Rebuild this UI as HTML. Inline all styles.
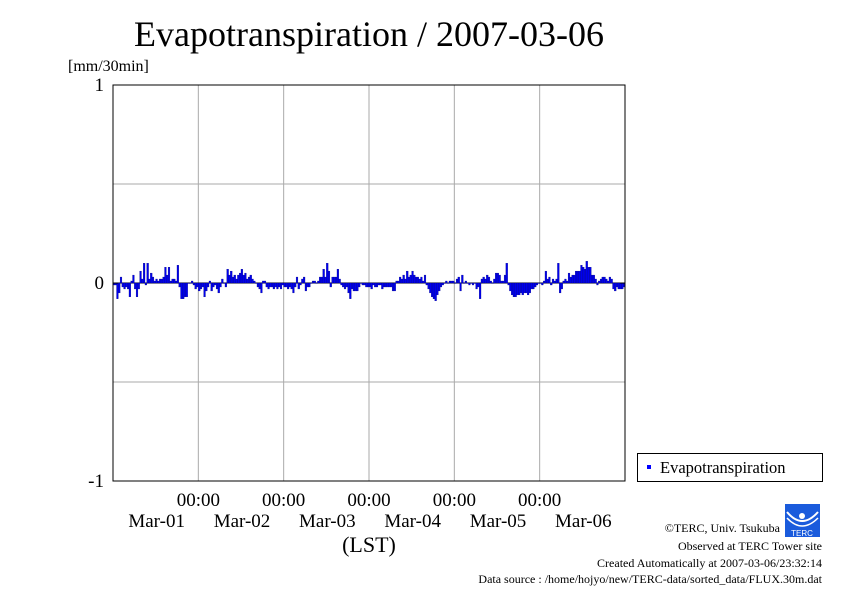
<!DOCTYPE html>
<html><head><meta charset="utf-8"><style>
body{margin:0;background:#fff;width:842px;height:595px;overflow:hidden}
svg{display:block;font-family:"Liberation Serif",serif}
</style></head><body>
<svg id="chart" width="842" height="595">
<text x="369" y="46" font-size="36" text-anchor="middle">Evapotranspiration / 2007-03-06</text>
<text x="68" y="71" font-size="16">[mm/30min]</text>
<g id="grid"></g>
<g id="bars"></g>
<rect x="113" y="85" width="512" height="396" fill="none" stroke="#000" stroke-width="1"/>
<g id="axes" font-size="19"></g>
<text x="369" y="552" font-size="22" text-anchor="middle">(LST)</text>
<g>
<rect x="637.5" y="453.5" width="185" height="28" fill="#fff" stroke="#000"/>
<rect x="647" y="465" width="4" height="4" fill="#0000ff"/>
<text x="660" y="473" font-size="16.5">Evapotranspiration</text>
</g>
<g>
<rect x="785" y="504" width="35" height="33" fill="#1a5bdc"/>
<path d="M787 512 Q802 530 818 512" stroke="#fff" stroke-width="2" fill="none"/>
<path d="M787 518 Q802 534 818 518" stroke="#fff" stroke-width="1.5" fill="none"/>
<circle cx="802" cy="516" r="3" fill="#fff"/>
<text x="802" y="536" font-size="8" fill="#fff" text-anchor="middle" font-family="Liberation Sans,sans-serif">TERC</text>
</g>
<g font-size="12" text-anchor="end">
<text x="780" y="532">©TERC, Univ. Tsukuba</text>
<text x="822" y="550">Observed at TERC Tower site</text>
<text x="822" y="567">Created Automatically at 2007-03-06/23:32:14</text>
<text x="822" y="583">Data source : /home/hojyo/new/TERC-data/sorted_data/FLUX.30m.dat</text>
</g>
</svg>
<script>
const yTicks=[1,0,-1];
const yTickLabels=["1","0","-1"];
const dayLabels=["Mar-01","Mar-02","Mar-03","Mar-04","Mar-05","Mar-06"];
const valuesDay1=[-0.01,-0.01,-0.08,-0.05,0.03,-0.02,-0.03,-0.02,-0.03,-0.07,0.01,0.04,-0.03,-0.07,-0.03,0.06,0.02,0.1,-0.01,0.1,0.02,0.05,0.03,0.01,0.02,0.01,0.02,0.02,0.03,0.08,0.04,0.08,0.01,0.02,0.02,0.01,0.09,-0.02,-0.08,-0.08,-0.07,-0.07,0,0,0.01,-0.01,-0.03,-0.02,-0.04,-0.03,-0.02,-0.07,-0.04,-0.02,0.01,-0.04,-0.02,-0.01,-0.03,-0.05,-0.02,0.02,0,-0.02,0.07,0.04,0.06,0.03,0.04,0.02,0.04,0.05,0.07,0.04,0.05,0.02,0.03,0.04,0.02,0.01,0,-0.02,-0.03,-0.05,0.01,0.01,-0.02,-0.03,-0.02,-0.02,-0.03,-0.02,-0.03,-0.02,-0.03,-0.01,-0.02];
const valuesDay2=[-0.02,-0.03,-0.02,-0.03,-0.05,-0.02,0.03,-0.03,-0.01,0.02,0.03,-0.04,-0.02,-0.02,0,0.01,0.01,0,0.01,0.03,0.03,0.07,0.03,0.1,0.06,-0.02,0.03,0.03,0.03,0.07,0.02,-0.01,-0.02,-0.03,-0.02,-0.05,-0.08,-0.03,-0.04,-0.04,-0.04,-0.02,0,-0.01,-0.01,-0.02,-0.02,-0.02,-0.03,-0.01,-0.02,-0.02,-0.01,-0.01,-0.03,-0.02,-0.02,-0.02,-0.02,-0.02,-0.04,-0.04,0.01,0.01,0.03,0.02,0.04,0.02,0.06,0.03,0.04,0.06,0.04,0.03,0.03,0.02,0.03,0.01,0.04,-0.01,-0.03,-0.05,-0.07,-0.08,-0.09,-0.06,-0.04,-0.02,-0.01,0,0.01,0,0.01,0.01,0.01,0];
const valuesDay3=[0.02,0.03,-0.04,0.04,0,0.01,0,-0.01,0,-0.01,0,-0.03,-0.02,-0.08,0.02,0.03,0.02,0.04,0.03,0.01,0,0.02,0.05,0.05,0.04,0.01,0.01,0.04,0.1,-0.01,-0.04,-0.06,-0.07,-0.07,-0.06,-0.06,-0.05,-0.06,-0.05,-0.05,-0.06,-0.05,-0.03,-0.03,-0.02,-0.01,0,0,-0.01,0.01,0.06,0.02,0.03,-0.01,0.02,0.01,0.02,0.1,-0.05,-0.03,0.01,0.02,0.01,0.05,0.03,0.04,0.04,0.06,0.06,0.06,0.09,0.08,0.07,0.11,0.08,0.08,0.04,0.04,0.02,-0.01,0.01,0.02,0.03,0.03,0.02,0.01,0.03,0.02,-0.03,-0.04,-0.02,-0.03,-0.03,-0.03,-0.02,-0.03];
const values=valuesDay1.concat(valuesDay2,valuesDay3).slice(0,288);
const NS="http://www.w3.org/2000/svg";
const X0=113,X1=625,Y0=85,Y1=481,N=288;
const xScale=i=>X0+(X1-X0)*i/N;
const yScale=v=>Y0+(Y1-Y0)*(1-v)/2;
function mk(tag,attrs,parent){const e=document.createElementNS(NS,tag);for(const k in attrs)e.setAttribute(k,attrs[k]);parent.appendChild(e);return e;}
const grid=document.getElementById('grid'),bars=document.getElementById('bars'),axes=document.getElementById('axes');
[0.5,-0.5].forEach(v=>{const l=mk('line',{x1:X0,x2:X1,y1:yScale(v),y2:yScale(v),stroke:'#aaa','stroke-width':1},grid);

});
for(let d=1;d<6;d++){const x=xScale(d*48);const l=mk('line',{x1:x,x2:x,y1:Y0,y2:Y1,stroke:'#aaa','stroke-width':1},grid);


const t=mk('text',{x:x,y:506,'text-anchor':'middle'},axes);t.textContent='00:00';

}
dayLabels.forEach((s,d)=>{const t=mk('text',{x:xScale(d*48+24)+1,y:527,'text-anchor':'middle'},axes);t.textContent=s;

});
yTicks.forEach((v,i)=>{const y=yScale(v);const t=mk('text',{x:104,y:y+6,'text-anchor':'end'},axes);t.textContent=yTickLabels[i];


mk('line',{x1:X0,x2:X0+5,y1:y,y2:y,stroke:'#000'},axes);mk('line',{x1:X1-5,x2:X1,y1:y,y2:y,stroke:'#000'},axes);});
mk('line',{x1:X0,x2:X1,y1:yScale(0),y2:yScale(0),stroke:'#000','stroke-width':1},grid);
const bw=(X1-X0)/N;
values.forEach((v,i)=>{const y0=yScale(0),y=yScale(v);const r=mk('rect',{x:xScale(i),y:Math.min(y,y0),width:bw,height:Math.max(Math.abs(y-y0),0.5),fill:'#0000ee',stroke:'#000080','stroke-width':0.3},bars);

});
</script>
</body></html>
